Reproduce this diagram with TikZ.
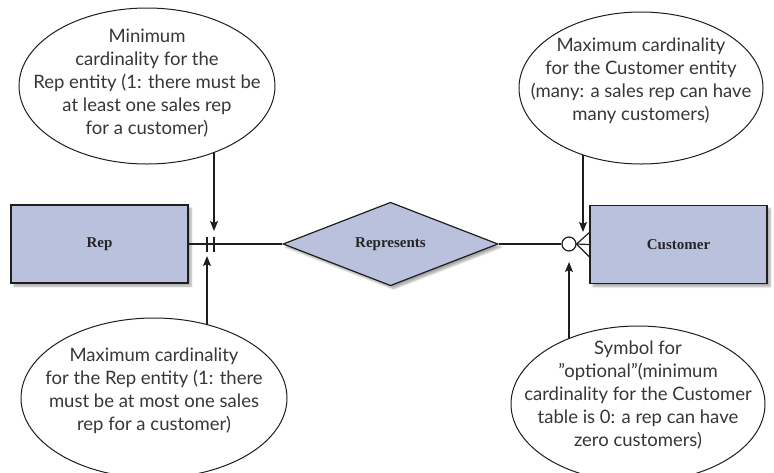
\documentclass[tikz,border=0pt]{standalone}
\usepackage{fontspec}
\setmainfont{Lato}
\newfontfamily\boxfont{Liberation Serif}
\usetikzlibrary{shapes.geometric,arrows.meta,shadows.blur,backgrounds}
\definecolor{entfill}{RGB}{186,193,221}
\definecolor{linecol}{RGB}{30,30,30}
\definecolor{notecol}{RGB}{55,55,55}
\tikzset{
  entity/.style={draw=linecol, line width=1.2pt, fill=entfill, minimum width=177pt, minimum height=78pt, inner sep=0pt,
    blur shadow={shadow xshift=3pt, shadow yshift=-3pt, shadow blur steps=6, shadow opacity=35},
    font=\boxfont\bfseries\fontsize{15}{18}\selectfont, text=black!85},
  relation/.style={diamond, draw=linecol, line width=1.2pt, fill=entfill, minimum width=215pt, minimum height=82pt, inner sep=0pt,
    blur shadow={shadow xshift=3pt, shadow yshift=-3pt, shadow blur steps=6, shadow opacity=35},
    font=\boxfont\bfseries\fontsize{15}{18}\selectfont, text=black!85},
  note/.style={ellipse, draw=linecol, line width=1pt, fill=white, inner xsep=-70pt, inner ysep=-40pt},
  notetext/.style={align=center, text=notecol, inner sep=0pt, font=\fontsize{18.5}{23}\selectfont},
  conn/.style={draw=linecol, line width=1.2pt},
  pointer/.style={draw=linecol, line width=1.2pt, -{Stealth[length=10pt,width=8pt,inset=2pt]}},
}
\begin{document}
\begin{tikzpicture}[x=1pt,y=-1pt]
\useasboundingbox (0,0) rectangle (774,472);
% entities and relationship
\node[entity] (rep) at (99.5,244) {Rep};
\node[entity] (cust) at (678.5,244.5) {Customer};
\node[relation] (rel) at (390.5,244) {Represents};
\node[circle, draw=linecol, line width=1.2pt, fill=white, minimum size=14pt, inner sep=0pt] (opt) at (569,244) {};
% connectors
\draw[conn] (rep.east) -- (rel.west);
\draw[conn] (rel.east) -- (opt.west);
\draw[conn] (opt.east) -- ([yshift=12pt]cust.west);
\draw[conn] (opt.east) -- (cust.west);
\draw[conn] (opt.east) -- ([yshift=-12.5pt]cust.west);
% ticks (mandatory one)
\coordinate (t1) at (207,244);
\coordinate (t2) at (214,244);
\draw[conn] ([yshift=7.5pt]t1) -- ([yshift=-7.5pt]t1);
\draw[conn] ([yshift=7.5pt]t2) -- ([yshift=-7.5pt]t2);
% notes
\node[note, minimum width=256pt, minimum height=156pt] (n1) at (147,86) {};
\node[notetext] (n1t) at (147,83)
  {Minimum\\cardinality for the\\Rep entity (1: there must be\\at least one sales rep\\for a customer)};
\node[note, minimum width=266pt, minimum height=160pt] (n2) at (154,398) {};
\node[notetext] (n2t) at (154,391)
  {Maximum cardinality\\for the Rep entity (1: there\\must be at most one sales\\rep for a customer)};
\node[note, minimum width=244pt, minimum height=152pt] (n3) at (641,88) {};
\node[notetext] (n3t) at (641,81)
  {Maximum cardinality\\for the Customer entity\\(many: a sales rep can have\\many customers)};
\node[note, minimum width=254pt, minimum height=156pt] (n4) at (638,404) {};
\node[notetext] (n4t) at (638,395)
  {Symbol for\\”optional”(minimum\\cardinality for the Customer\\table is 0: a rep can have\\zero customers)};
% pointers
\coordinate (a1) at (214,231);
\coordinate (a2) at (207,256);
\coordinate (a3) at (583,232);
\coordinate (a4) at (569,262);
\begin{scope}[on background layer]
\draw[pointer] (n1.center -| a1) -- (a1);
\draw[pointer] (n2.center -| a2) -- (a2);
\draw[pointer] (n3.center -| a3) -- (a3);
\draw[pointer] (n4.center -| a4) -- (a4);
\end{scope}
\end{tikzpicture}
\end{document}
